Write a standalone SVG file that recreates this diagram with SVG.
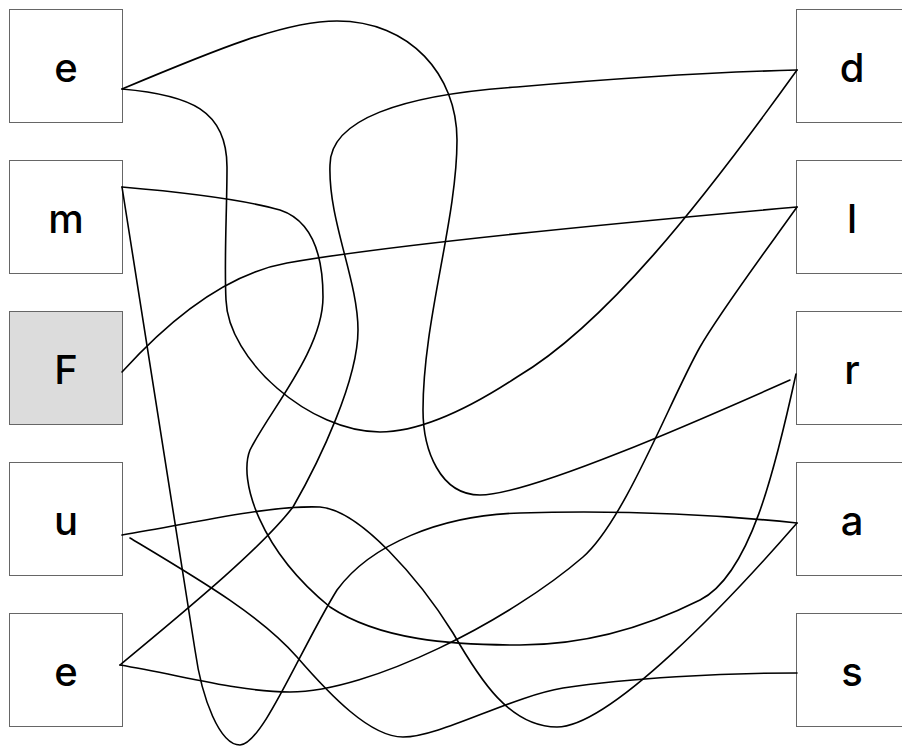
<svg xmlns="http://www.w3.org/2000/svg" width="902" height="748" viewBox="0 0 902 748">
<style>
.box{fill:#fff;stroke:#666;stroke-width:1}
.hl{fill:#dcdcdc}
.lbl{font-family:Inter,"Liberation Sans",sans-serif;font-size:40px;font-weight:500;fill:#000;text-anchor:middle}
.edge{fill:none;stroke:#000;stroke-width:1.6;stroke-linecap:round}
</style>
<rect width="902" height="748" fill="#fff"/>
<g id="n-e1"><rect class="box" x="9.5" y="9.5" width="113" height="113"/><text class="lbl" x="66" y="82">e</text></g>
<g id="n-m"><rect class="box" x="9.5" y="160.5" width="113" height="113"/><text class="lbl" x="66" y="233">m</text></g>
<g id="n-F"><rect class="box hl" x="9.5" y="311.5" width="113" height="113"/><text class="lbl" x="66" y="384">F</text></g>
<g id="n-u"><rect class="box" x="9.5" y="462.5" width="113" height="113"/><text class="lbl" x="66" y="535">u</text></g>
<g id="n-e2"><rect class="box" x="9.5" y="613.5" width="113" height="113"/><text class="lbl" x="66" y="686">e</text></g>
<g id="n-d"><rect class="box" x="796.5" y="9.5" width="113" height="113"/><text class="lbl" x="852" y="82">d</text></g>
<g id="n-l"><rect class="box" x="796.5" y="160.5" width="113" height="113"/><text class="lbl" x="852" y="233">l</text></g>
<g id="n-r"><rect class="box" x="796.5" y="311.5" width="113" height="113"/><text class="lbl" x="852" y="384">r</text></g>
<g id="n-a"><rect class="box" x="796.5" y="462.5" width="113" height="113"/><text class="lbl" x="852" y="535">a</text></g>
<g id="n-s"><rect class="box" x="796.5" y="613.5" width="113" height="113"/><text class="lbl" x="852" y="686">s</text></g>
<g id="connectors">
<path class="edge" d="M122,89 C215,50 285,21 337,21 C410,21 457,75 457,140 C457,220 423,320 423,410 C423,450 440,495 480,495 C530,495 700,420 790,380"/>
<path class="edge" d="M122,89 C190,95 227,110 227,167 C227,210 224,260 226,300 C228,360 310,432 380,432 C420,432 470,408 517,377 C605,325 700,205 797,70"/>
<path class="edge" d="M120,665 C180,615 260,550 293,507 C320,460 358,380 358,330 C358,280 328,220 330,165 C330,120 400,95 517,87 C620,78 720,72 797,70"/>
<path class="edge" d="M122,187 C180,192 245,200 280,210 C310,220 323,250 323,297 C323,350 270,410 250,450 C238,480 260,550 330,607 C380,640 450,645 520,645 C590,645 650,625 700,600 C750,575 775,470 796,374"/>
<path class="edge" d="M122,187 L195,650 C202,700 220,745 240,745 C262,745 300,650 337,590 C370,545 440,515 520,513 C620,510 720,515 797,523"/>
<path class="edge" d="M120,665 C180,675 240,692 290,692 C370,692 510,620 583,557 C625,520 670,400 700,347 C720,312 770,245 797,207"/>
<path class="edge" d="M122,372 C160,330 220,275 287,263 C400,243 650,220 797,207"/>
<path class="edge" d="M122,535 C200,522 270,505 320,507 C360,510 420,580 453,633 C480,680 510,727 557,727 C610,727 730,600 797,523"/>
<path class="edge" d="M130,538 C200,580 260,615 297,657 C330,695 370,737 403,737 C440,737 510,697 563,688 C630,678 720,673 797,673"/>
</g>
</svg>
